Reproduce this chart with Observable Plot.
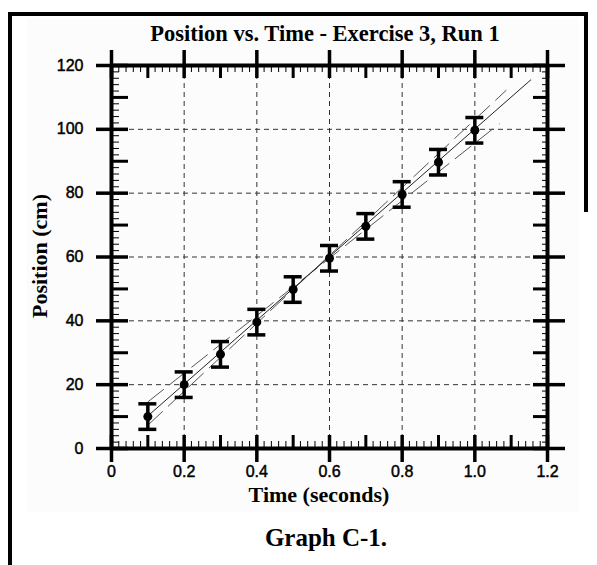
<!DOCTYPE html>
<html><head><meta charset="utf-8">
<script src="https://cdn.jsdelivr.net/npm/d3@7"></script>
<script src="https://cdn.jsdelivr.net/npm/@observablehq/plot@0.6"></script>
<style>
html,body{margin:0;padding:0;background:#fff;}
#wrap{position:relative;width:597px;height:565px;overflow:hidden;background:#fff;}
.frame{position:absolute;left:8px;top:12px;width:576px;height:600px;border-left:4px solid #000;border-top:4px solid #000;}
.rframe{position:absolute;left:584px;top:12px;width:4px;height:200px;background:#000;}
.t{position:absolute;font-family:"Liberation Serif","Times New Roman",serif;font-weight:bold;color:#000;white-space:nowrap;line-height:1;}
#chart{position:absolute;left:27px;top:18px;}
</style></head><body>
<div id="wrap">
  <div class="frame"></div>
  <div class="rframe"></div>
  <div id="chart"></div>
  <div class="t" id="title" style="left:325px;top:23px;font-size:22.5px;transform:translateX(-50%);">Position vs. Time - Exercise 3, Run 1</div>
  <div class="t" id="ylab" style="left:40px;top:256px;font-size:22px;transform:translate(-50%,-50%) rotate(-90deg);">Position (cm)</div>
  <div class="t" id="xlab" style="left:319px;top:484px;font-size:22px;transform:translateX(-50%);">Time (seconds)</div>
  <div class="t" id="cap" style="left:326px;top:525px;font-size:25px;transform:translateX(-50%);">Graph C-1.</div>
</div>
<script>
// ---- data ----
const times = [0.1, 0.2, 0.3, 0.4, 0.5, 0.6, 0.7, 0.8, 0.9, 1.0];
const positions = [10, 20, 29.5, 39.6, 49.8, 59.6, 69.6, 79.6, 89.7, 99.7];
const errors = [4, 4, 4, 4, 4, 4, 4, 4, 4, 4];

const fitX = [0.1, 1.154];
const fitY = [10.2, 115.5];
const maxX = [0.1, 1.086];
const maxY = [7.3, 112.2];
const minX = [0.1, 1.067];
const minY = [14.6, 101.7];

const xMajor = [0, 0.2, 0.4, 0.6, 0.8, 1.0, 1.2];
const xTickLabels = ["0", "0.2", "0.4", "0.6", "0.8", "1.0", "1.2"];
const yMajor = [0, 20, 40, 60, 80, 100, 120];
const yTickLabels = ["0", "20", "40", "60", "80", "100", "120"];
const xMid = [0.1, 0.3, 0.5, 0.7, 0.9, 1.1];
const yMid = [10, 30, 50, 70, 90, 110];
const xGrid = [0.2, 0.4, 0.6, 0.8, 1.0];
const yGrid = [20, 40, 60, 80, 100];
const xMinor = d3.range(0, 61).filter(i => i % 5 !== 0).map(i => i * 0.02);
const yMinor = d3.range(0, 61).filter(i => i % 5 !== 0).map(i => i * 2);

// ---- layout ----
const W = 551, H = 494;
const mL = 84, mR = 31, mT = 47, mB = 64;
const fw = W - mL - mR, fh = H - mT - mB;
const idx = d3.range(times.length);
const fontSans = "Liberation Sans, Arial, sans-serif";

const chart = Plot.plot({
  width: W, height: H,
  marginLeft: mL, marginRight: mR, marginTop: mT, marginBottom: mB,
  style: {background: "#fcfcfc", overflow: "visible"},
  x: {domain: [0, 1.2], axis: null},
  y: {domain: [0, 120], axis: null},
  marks: [
    // grid
    Plot.ruleX(xGrid, {x: d => d, stroke: "#333", strokeWidth: 1, strokeDasharray: "5,4"}),
    Plot.ruleY(yGrid, {y: d => d, stroke: "#333", strokeWidth: 1, strokeDasharray: "5,4"}),
    // fit lines
    Plot.line(maxX, {x: maxX, y: maxY, stroke: "#555", strokeWidth: 1, strokeDasharray: "20,8"}),
    Plot.line(minX, {x: minX, y: minY, stroke: "#555", strokeWidth: 1, strokeDasharray: "20,8"}),
    Plot.line(fitX, {x: fitX, y: fitY, stroke: "#222", strokeWidth: 1}),
    // error bars
    Plot.ruleX(idx, {x: i => times[i], y1: i => positions[i] - errors[i], y2: i => positions[i] + errors[i], stroke: "#000", strokeWidth: 3.5}),
    Plot.ruleY(idx, {y: i => positions[i] + errors[i], x1: i => times[i], x2: i => times[i], insetLeft: -9, insetRight: -9, stroke: "#000", strokeWidth: 3.5}),
    Plot.ruleY(idx, {y: i => positions[i] - errors[i], x1: i => times[i], x2: i => times[i], insetLeft: -9, insetRight: -9, stroke: "#000", strokeWidth: 3.5}),
    Plot.dot(idx, {x: i => times[i], y: i => positions[i], r: 4.5, fill: "#000", stroke: "none"}),
    // minor ticks
    Plot.ruleX(xMinor, {x: d => d, insetTop: fh - 7, stroke: "#000", strokeWidth: 1}),
    Plot.ruleX(xMinor, {x: d => d, insetBottom: fh - 7, stroke: "#000", strokeWidth: 1}),
    Plot.ruleY(yMinor, {y: d => d, insetRight: fw - 8, stroke: "#000", strokeWidth: 1}),
    Plot.ruleY(yMinor, {y: d => d, insetLeft: fw - 5, stroke: "#000", strokeWidth: 1}),
    // medium ticks
    Plot.ruleX(xMid, {x: d => d, insetTop: fh - 13, stroke: "#000", strokeWidth: 3}),
    Plot.ruleX(xMid, {x: d => d, insetBottom: fh - 13, stroke: "#000", strokeWidth: 3}),
    Plot.ruleY(yMid, {y: d => d, insetRight: fw - 17, stroke: "#000", strokeWidth: 3}),
    Plot.ruleY(yMid, {y: d => d, insetLeft: fw - 14, stroke: "#000", strokeWidth: 3}),
    // axis lines
    Plot.ruleX([0, 1.2], {x: d => d, stroke: "#000", strokeWidth: 4}),
    Plot.ruleY([0, 120], {y: d => d, stroke: "#000", strokeWidth: 4}),
    // major ticks
    Plot.ruleX(xMajor, {x: d => d, insetTop: fh - 13, insetBottom: -14, stroke: "#000", strokeWidth: 3.5}),
    Plot.ruleX(xMajor, {x: d => d, insetTop: -15, insetBottom: fh - 13, stroke: "#000", strokeWidth: 3.5}),
    Plot.ruleY(yMajor, {y: d => d, insetLeft: -15, insetRight: fw - 17, stroke: "#000", strokeWidth: 3.5}),
    Plot.ruleY(yMajor, {y: d => d, insetLeft: fw - 14, insetRight: -18, stroke: "#000", strokeWidth: 3.5}),
    // tick labels
    Plot.text(xMajor, {x: d => d, text: (d, i) => xTickLabels[i], frameAnchor: "bottom", lineAnchor: "top", dy: 17, fontSize: 16, fontFamily: fontSans, fill: "#000", stroke: "#000", strokeWidth: 0.45, ariaLabel: "xlab"}),
    Plot.text(yMajor, {y: d => d, text: (d, i) => yTickLabels[i], frameAnchor: "left", textAnchor: "end", dx: -28, fontSize: 16, fontFamily: fontSans, fill: "#000", stroke: "#000", strokeWidth: 0.45, ariaLabel: "ylab"})
  ]
});
document.getElementById("chart").appendChild(chart);

// vertical stretch of the tick label glyphs (the original font is taller than wide)
chart.querySelectorAll('g[aria-label="xlab"] text, g[aria-label="ylab"] text').forEach(t => {
  const tr = t.getAttribute("transform");
  if (tr) {
    t.setAttribute("transform", tr + " scale(1,1.18)");
  } else {
    const x = +t.getAttribute("x") || 0, y = +t.getAttribute("y") || 0;
    t.removeAttribute("x"); t.removeAttribute("y");
    t.setAttribute("transform", `translate(${x},${y}) scale(1,1.18)`);
  }
});
</script>
</body></html>
